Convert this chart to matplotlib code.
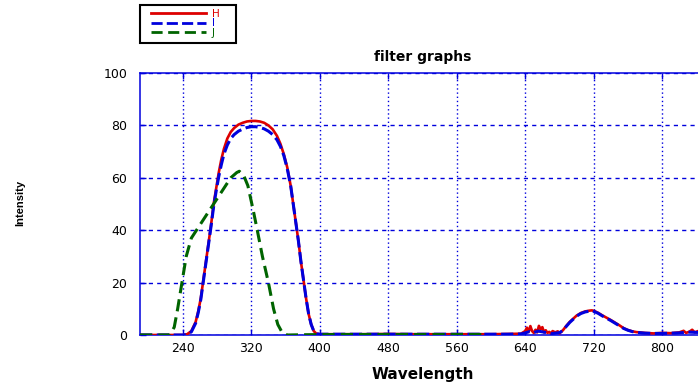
import matplotlib
matplotlib.use("Agg")
import matplotlib.pyplot as plt
from matplotlib.patches import Rectangle

# ---------------- data ----------------
wl_H = [190, 220, 240, 245, 250, 255, 258, 261, 264, 267, 270, 273, 276, 279, 282, 285, 288, 292, 296,
        300, 305, 310, 315, 320, 325, 330, 335, 340, 345, 350, 354, 358, 362, 366, 369, 372, 375, 378,
        381, 384, 387, 390, 393, 396, 400, 420, 450, 480, 510, 540, 570, 600, 620, 635, 640, 642, 644,
        646, 648, 650, 652, 654, 656, 658, 660, 662, 664, 666, 668, 670, 672, 675, 678, 680, 684, 688,
        692, 696, 700, 705, 710, 715, 718, 721, 725, 730, 735, 740, 745, 750, 755, 760, 765, 770, 780,
        790, 800, 810, 820, 825, 828, 832, 835, 838, 842, 850]
val_H = [0, 0, 0, 0.3, 1.5, 5, 9, 14, 21, 28, 35, 42, 50, 56, 62, 67, 71, 75, 77.5,
         79, 80.3, 81, 81.5, 81.7, 81.7, 81.5, 81, 80, 78.5, 76, 73, 69, 64, 57, 50, 43, 36, 28,
         21, 14, 8, 4, 1.5, 0.5, 0.3, 0.3, 0.3, 0.4, 0.3, 0.3, 0.3, 0.3, 0.4, 0.5, 1.5, 2.8, 1.2,
         3.4, 1.5, 0.8, 2.0, 1.0, 3.5, 2.2, 3.0, 1.0, 1.8, 0.8, 1.2, 0.6, 1.5, 1.0, 1.4, 0.6, 1.8, 3.5,
         5.0, 6.2, 7.4, 8.4, 9.0, 9.3, 9.4, 9.1, 8.5, 7.5, 6.6, 5.7, 4.7, 3.7, 2.6, 1.9, 1.4, 1.1, 0.8,
         0.6, 0.8, 0.7, 1.0, 1.6, 0.8, 1.3, 2.0, 1.0, 1.5, 1.0]

wl_I = [190, 220, 240, 245, 250, 255, 258, 261, 264, 267, 270, 273, 276, 279, 282, 285, 288, 292, 296,
        300, 305, 310, 315, 320, 325, 330, 335, 340, 345, 350, 354, 358, 362, 366, 369, 372, 375, 378,
        381, 384, 387, 390, 393, 396, 400, 420, 450, 480, 510, 540, 570, 600, 620, 635, 640, 645, 650,
        655, 660, 665, 670, 675, 680, 684, 688, 692, 696, 700, 705, 710, 715, 718, 721, 725, 730, 735,
        740, 745, 750, 755, 760, 765, 770, 780, 790, 800, 810, 820, 830, 840, 850]
val_I = [0, 0, 0, 0.2, 1.2, 4.5, 8.5, 13.5, 20.5, 27.5, 34.5, 41.5, 49, 55, 60.5, 65, 69, 72.5, 75,
         76.5, 77.8, 78.6, 79.2, 79.5, 79.5, 79.2, 78.7, 77.8, 76.5, 74.5, 72, 68.5, 63.5, 57, 50, 43, 36, 28,
         21, 14, 8, 4, 1.5, 0.5, 0.3, 0.3, 0.3, 0.3, 0.3, 0.3, 0.3, 0.3, 0.3, 0.4, 0.8, 1.3, 0.9,
         1.5, 1.2, 0.9, 0.5, 0.7, 0.9, 1.7, 3.3, 4.8, 6.0, 7.2, 8.2, 8.8, 9.1, 9.2, 8.9, 8.3, 7.3, 6.4,
         5.5, 4.5, 3.5, 2.5, 1.8, 1.3, 1.0, 0.7, 0.6, 0.6, 0.7, 0.8, 1.1, 1.0, 0.9]

wl_J = [190, 215, 225, 230, 234, 239, 244, 250, 256, 264, 272, 280, 288, 296, 303, 306, 311, 316,
        322, 327, 333, 340, 346, 351, 356, 362, 380, 420, 460, 500, 540, 590]
val_J = [0, 0, 0, 3, 10, 20, 30, 37, 40, 44, 48, 52, 56, 60, 62, 62.5, 61, 57,
         48, 40, 30, 20, 10, 4, 1, 0, 0.1, 0.2, 0.2, 0.2, 0.2, 0.2]

series_names = ["H", "I", "J"]
series_colors = ["#dd0000", "#0000dd", "#006400"]

x_ticks = [240, 320, 400, 480, 560, 640, 720, 800]
y_ticks = [0, 20, 40, 60, 80, 100]

# ---------------- figure ----------------
W, H = 698, 388
fig = plt.figure(figsize=(W / 100, H / 100), dpi=100)
ax_left, ax_right, ax_top, ax_bottom = 140, 705, 73, 335
ax = fig.add_axes([ax_left / W, 1 - ax_bottom / H, (ax_right - ax_left) / W, (ax_bottom - ax_top) / H])

blue = "#0000dd"
ax.plot(wl_H, val_H, color=series_colors[0], lw=1.9, ls="-", label=series_names[0], zorder=3)
ax.plot(wl_I, val_I, color=series_colors[1], lw=2.2, ls=(0, (4, 1.5)), label=series_names[1], zorder=4)
ax.plot(wl_J, val_J, color=series_colors[2], lw=2.2, ls=(0, (4, 2)), label=series_names[2], zorder=5)

ax.set_xlim(190, 850)
ax.set_ylim(0, 100)
ax.set_xticks(x_ticks)
ax.set_yticks(y_ticks)

for s in ax.spines.values():
    s.set_color(blue)
    s.set_linewidth(1.1)

ax.tick_params(axis="both", direction="in", color=blue, length=4, width=1.0,
               labelsize=9, labelcolor="black", top=True, right=True)
ax.tick_params(axis="y", pad=9)
ax.tick_params(axis="x", pad=5)

ax.xaxis.grid(True, color=blue, linestyle=(0, (1, 2)), linewidth=1.0)
ax.yaxis.grid(True, color=blue, linestyle=(0, (3, 3)), linewidth=1.0)
ax.set_axisbelow(True)

ax.set_title("filter graphs", fontsize=10, fontweight="bold", pad=9)
ax.set_xlabel("Wavelength", fontsize=11, fontweight="bold", labelpad=9)
fig.text(20 / W, 1 - 203 / H, "Intensity", rotation=90, ha="center", va="center",
         fontsize=8, fontweight="bold", family=["Liberation Sans Narrow", "Liberation Sans"])

leg = fig.legend(loc="upper left", bbox_to_anchor=(151 / W, 1 - 9 / H), fontsize=7.5,
                 frameon=False, handlelength=5.3, labelspacing=-0.05, borderpad=0,
                 handletextpad=0.55, borderaxespad=0, labelcolor="linecolor")
for line in leg.get_lines():
    line.set_linewidth(2.0)
fig.patches.append(Rectangle((140 / W, 1 - 43 / H), 96 / W, 38 / H, transform=fig.transFigure,
                             fill=False, edgecolor="black", linewidth=1.5))

fig.savefig("out.png", dpi=100)
